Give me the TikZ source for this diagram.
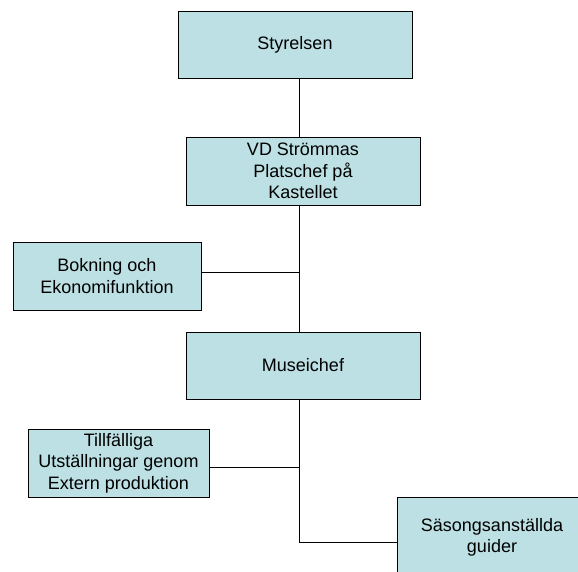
\documentclass[tikz,border=0pt]{standalone}
\usepackage{fontspec}
\setmainfont{Liberation Sans}
\definecolor{boxfill}{RGB}{188,224,227}
\begin{document}
\begin{tikzpicture}[x=1pt,y=1pt,
  orgbox/.style={draw=black, line width=0.9pt, fill=boxfill, rectangle, inner sep=0pt,
    align=center, font=\fontsize{18}{21.6}\selectfont},
  conn/.style={draw=black, line width=0.9pt}]
\useasboundingbox (0,0) rectangle (578,-571);
\clip (0,0) rectangle (578,-571);
\node[orgbox, minimum width=234, minimum height=67] (sty) at (295,-44.5) {Styrelsen};
\node[orgbox, minimum width=234, minimum height=68] (vd) at (303,-171) {VD Strömmas\\Platschef på\\Kastellet};
\node[orgbox, minimum width=188, minimum height=68] (bok) at (107,-276) {Bokning och\\Ekonomifunktion};
\node[orgbox, minimum width=234, minimum height=67] (mus) at (303,-365.5) {Museichef};
\node[orgbox, minimum width=181, minimum height=68] (til) at (118.5,-463) {Tillfälliga\\Utställningar genom\\Extern produktion};
\node[orgbox, minimum width=190, minimum height=81] (sas) at (492,-537.5) {Säsongsanställda\\guider};
\coordinate (j1) at (299,-272);
\coordinate (j2) at (299,-467);
\coordinate (j3) at (299,-542);
\draw[conn] (sty.south -| j1) -- (vd.north -| j1);
\draw[conn] (vd.south -| j1) -- (mus.north -| j1);
\draw[conn] (j1 -| bok.east) -- (j1);
\draw[conn] (mus.south -| j3) -- (j3) -- (j3 -| sas.west);
\draw[conn] (j2 -| til.east) -- (j2);
\end{tikzpicture}
\end{document}
